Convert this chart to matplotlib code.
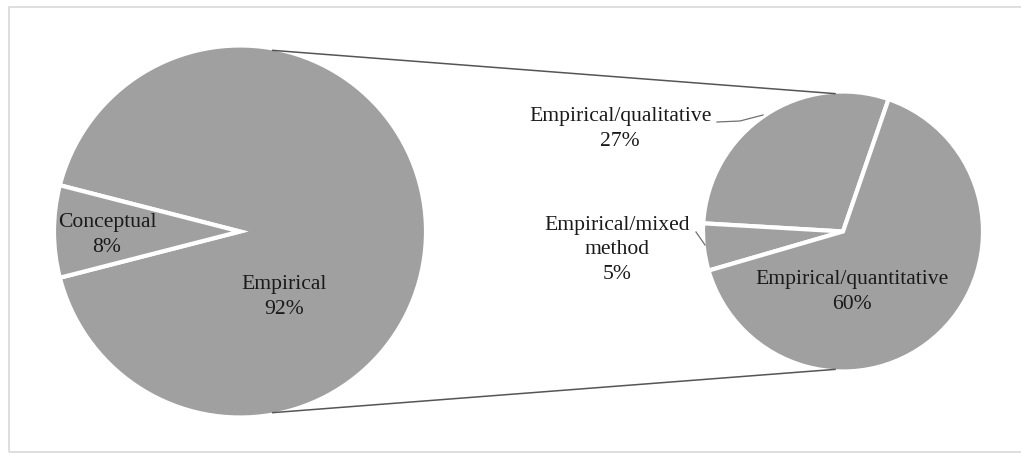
import numpy as np
import matplotlib.pyplot as plt
from matplotlib.patches import Rectangle

# data
main_labels = ["Empirical", "Conceptual"]
main_values = [92, 8]
sub_labels = ["Empirical/qualitative", "Empirical/mixed\nmethod", "Empirical/quantitative"]
sub_values = [27, 5, 60]

W, H = 1021, 454
fig = plt.figure(figsize=(W / 100, H / 100), dpi=100)
ax = fig.add_axes([0, 0, 1, 1])
plt.rcParams['font.family'] = ['Liberation Serif', 'DejaVu Serif']

grey = "#a0a0a0"
wp = dict(edgecolor="white", linewidth=3)

# pixel-like coords, y upwards
c1 = (240, H - 231.5)
r1 = 186
c2 = (843, H - 231.5)
r2 = 140

ax.pie(main_values, startangle=180 + main_values[1] / sum(main_values) * 180,
       center=c1, radius=r1, colors=[grey, grey], wedgeprops=wp, frame=True)
ax.pie(sub_values, startangle=71, center=c2, radius=r2,
       colors=[grey] * 3, wedgeprops=wp, frame=True)

# connector lines between the two pies
rr1, rr2 = r1 - 2, r2 - 2
for a1, a2 in [(80, 93), (-80, -93)]:
    x1 = c1[0] + rr1 * np.cos(np.radians(a1))
    y1 = c1[1] + rr1 * np.sin(np.radians(a1))
    x2 = c2[0] + rr2 * np.cos(np.radians(a2))
    y2 = c2[1] + rr2 * np.sin(np.radians(a2))
    ax.plot([x1, x2], [y1, y2], color="#555555", lw=1.1, solid_capstyle="butt")

fs = 15.6
tc = "#1a1a1a"
ls = 1.4

ax.text(107, H - 235, f"{main_labels[1]}\n{main_values[1]}%", ha="center", va="center",
        fontsize=fs, color=tc, linespacing=ls)
ax.text(284, H - 297, f"{main_labels[0]}\n{main_values[0]}%", ha="center", va="center",
        fontsize=fs, color=tc, linespacing=ls)
ax.text(620, H - 129, f"{sub_labels[0]}\n{sub_values[0]}%", ha="center", va="center",
        fontsize=fs, color=tc, linespacing=ls)
ax.text(617, H - 250, f"{sub_labels[1]}\n{sub_values[1]}%", ha="center", va="center",
        fontsize=fs, color=tc, linespacing=ls)
ax.text(852, H - 292, f"{sub_labels[2]}\n{sub_values[2]}%", ha="center", va="center",
        fontsize=fs, color=tc, linespacing=ls)

# leader lines
ax.plot([717, 740, 763], [H - 122, H - 121, H - 115], color="#707070", lw=0.9)
ax.plot([696, 705], [H - 232, H - 245], color="#707070", lw=0.9)

# outer frame
ax.add_patch(Rectangle((9, H - 452), W + 20, 445, fill=False, edgecolor="#d9d9d9", lw=1.2))

ax.set_xlim(0, W)
ax.set_ylim(0, H)
ax.set_aspect("auto")
ax.axis("off")

fig.savefig("out.png", dpi=100)
